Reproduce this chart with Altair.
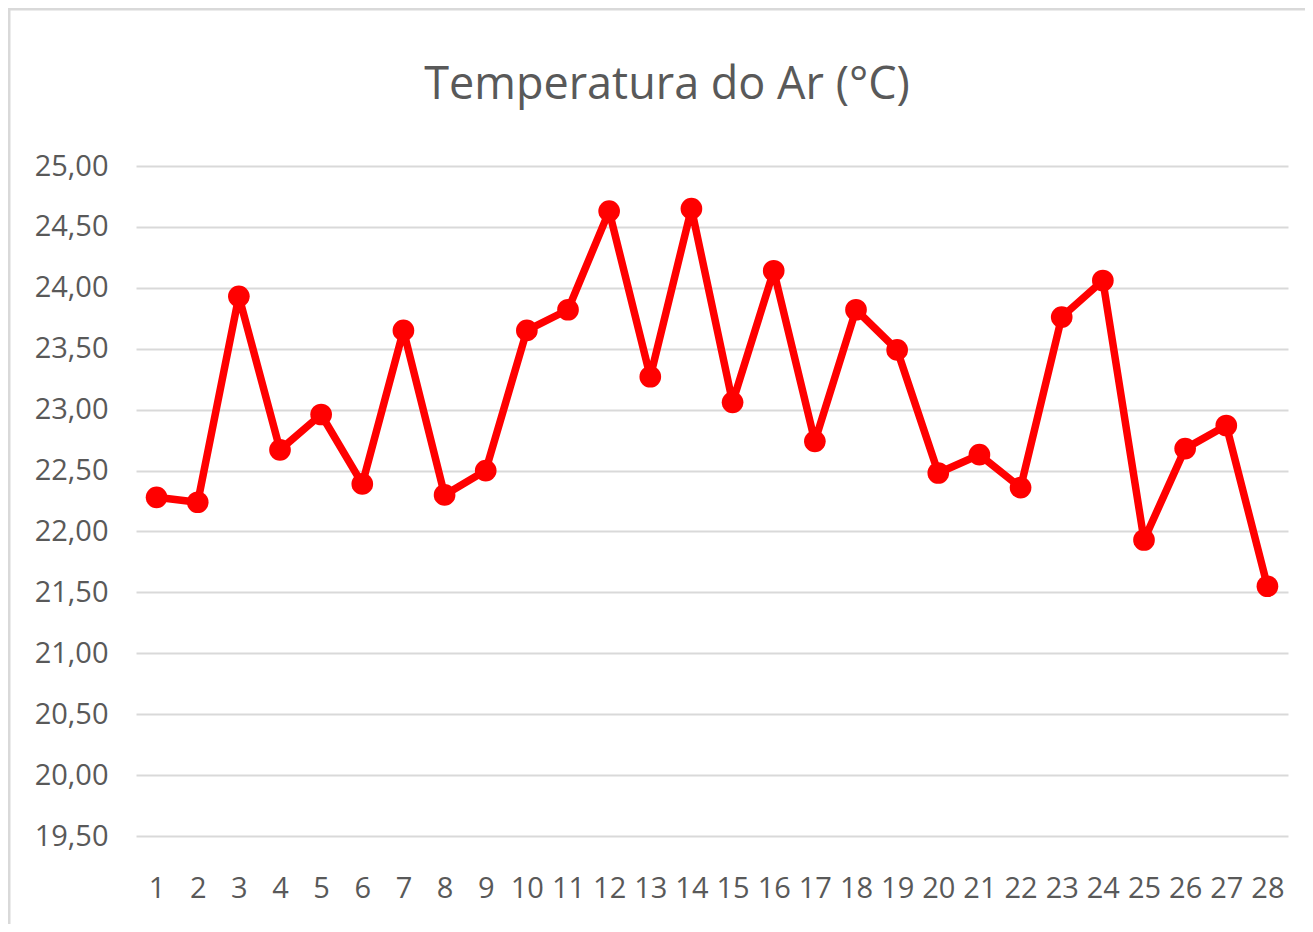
import altair as alt
import pandas as pd

days = list(range(1, 29))
temps = [22.28, 22.24, 23.93, 22.67, 22.96, 22.39, 23.65, 22.30, 22.50, 23.65,
         23.82, 24.63, 23.27, 24.65, 23.06, 24.14, 22.74, 23.82, 23.49, 22.48,
         22.63, 22.36, 23.76, 24.06, 21.93, 22.68, 22.87, 21.55]
y_ticks = [19.5, 20.0, 20.5, 21.0, 21.5, 22.0, 22.5, 23.0, 23.5, 24.0, 24.5, 25.0]
title_text = "Temperatura do Ar (°C)"

df = pd.DataFrame({"dia": days, "temp": temps})
title_df = pd.DataFrame({"t": [title_text]})

FONT = "Open Sans"
GRAY = "#595959"
RED = "#ff0000"

x = alt.X("dia:O", title=None,
          axis=alt.Axis(labelAngle=0, labelFontSize=29, labelColor=GRAY, labelFont=FONT,
                        ticks=False, domain=False, labelPadding=38, labelOverlap=False,
                        grid=False))
y = alt.Y("temp:Q", title=None,
          scale=alt.Scale(domain=[19.5, 25.0], nice=False, zero=False),
          axis=alt.Axis(values=y_ticks, labelExpr="replace(format(datum.value, '.2f'), '.', ',')",
                        labelFontSize=29, labelColor=GRAY, labelFont=FONT, ticks=False,
                        domain=False, labelPadding=28, gridColor="#d9d9d9", gridWidth=2))

line = alt.Chart(df).mark_line(color=RED, strokeWidth=7.5, strokeJoin="round").encode(x=x, y=y)
pts = alt.Chart(df).mark_circle(color=RED, size=470, opacity=1).encode(x=x, y=y)

frame_left = alt.Chart(title_df).mark_rule(color="#d9d9d9", strokeWidth=3).encode(
    x=alt.value(-127), y=alt.value(-158), y2=alt.value(760))
frame_top = alt.Chart(title_df).mark_rule(color="#d9d9d9", strokeWidth=3).encode(
    x=alt.value(-128), x2=alt.value(1170), y=alt.value(-157))

title = alt.Chart(title_df).mark_text(
    font=FONT, fontSize=45, color=GRAY, align="center", baseline="alphabetic"
).encode(text="t:N", x=alt.value(531), y=alt.value(-67))

chart = alt.layer(frame_left, frame_top, title, line, pts).properties(
    width=1152, height=670,
    padding={"left": 128, "top": 158, "right": 17, "bottom": 88},
    autosize=alt.AutoSizeParams(type="none"),
).configure(background="white").configure_view(stroke=None)

chart.save("out.html", embed_options={"renderer": "svg", "actions": False})
